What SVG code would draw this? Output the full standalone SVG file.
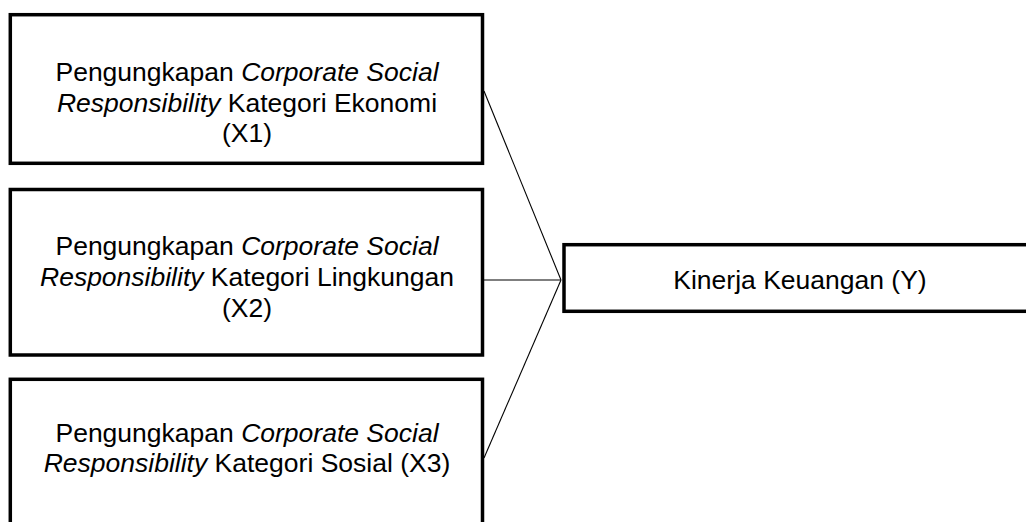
<svg xmlns="http://www.w3.org/2000/svg" width="1026" height="522" viewBox="0 0 1026 522">
  <style>
    .box { fill: #ffffff; stroke: #000000; stroke-width: 3.5; }
    .conn { stroke: #000000; stroke-width: 1.1; fill: none; }
    .t { font-family: "Liberation Sans", Arial, sans-serif; font-size: 26.5px; fill: #000000; text-anchor: middle; }
    .i { font-style: italic; }
  </style>
  <rect width="1026" height="522" fill="#ffffff"/>
  <g id="connectors">
    <line class="conn" x1="484" y1="91" x2="561" y2="280"/>
    <line class="conn" x1="484" y1="280" x2="561" y2="280"/>
    <line class="conn" x1="484" y1="458" x2="561" y2="280"/>
  </g>
  <g id="x1">
    <rect class="box" x="10.3" y="14.7" width="472.2" height="148.6"/>
    <text class="t" x="247" y="81">Pengungkapan <tspan class="i">Corporate Social</tspan></text>
    <text class="t" x="247" y="112"><tspan class="i">Responsibility</tspan> Kategori Ekonomi</text>
    <text class="t" x="247" y="142">(X1)</text>
  </g>
  <g id="x2">
    <rect class="box" x="10.3" y="189.5" width="472.2" height="165.5"/>
    <text class="t" x="247" y="255">Pengungkapan <tspan class="i">Corporate Social</tspan></text>
    <text class="t" x="247" y="286"><tspan class="i">Responsibility</tspan> Kategori Lingkungan</text>
    <text class="t" x="247" y="317">(X2)</text>
  </g>
  <g id="x3">
    <rect class="box" x="10.3" y="379.3" width="472.2" height="160"/>
    <text class="t" x="247" y="442">Pengungkapan <tspan class="i">Corporate Social</tspan></text>
    <text class="t" x="247" y="472"><tspan class="i">Responsibility</tspan> Kategori Sosial (X3)</text>
  </g>
  <g id="y">
    <rect class="box" x="564" y="244.7" width="474" height="66.6"/>
    <text class="t" x="800" y="289">Kinerja Keuangan (Y)</text>
  </g>
</svg>
